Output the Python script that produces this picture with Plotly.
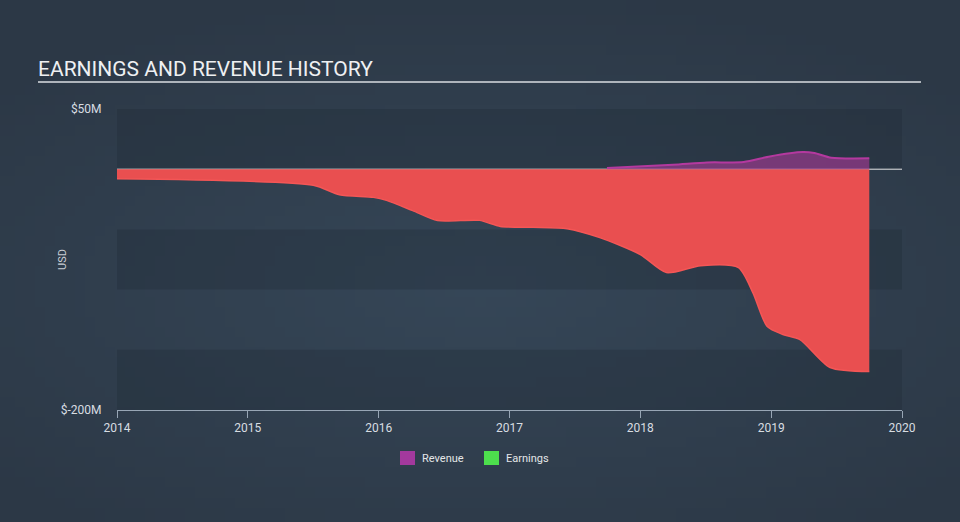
import zlib, struct, base64, math
import plotly.graph_objects as go

# ---- data ----
earn_x = [2014.00, 2015.50, 2015.70, 2015.96, 2016.06, 2016.26, 2016.45, 2016.77, 2016.93,
          2017.18, 2017.44, 2017.69, 2018.00, 2018.20, 2018.46, 2018.75, 2018.86, 2018.97,
          2019.09, 2019.22, 2019.45, 2019.75]
earn_y = [-7.9, -13.4, -21.2, -23.4, -25.9, -34.4, -42.7, -42.5, -47.5,
          -48.3, -49.4, -56.8, -70.9, -85.9, -80.1, -81.7, -102.5, -130.7,
          -137.3, -141.5, -164.7, -168.0]
rev_x = [2017.745, 2018.25, 2018.51, 2018.79, 2018.99, 2019.24, 2019.33, 2019.46, 2019.75]
rev_y = [1.0, 3.7, 5.6, 6.0, 10.6, 14.2, 13.4, 9.5, 9.0]
x_ticks = [2014, 2015, 2016, 2017, 2018, 2019, 2020]
y_ticks = [-200, 50]
y_ticktext = ["$-200M", "$50M"]
legend_names = ["Revenue", "Earnings"]
legend_colors = ["#a3399d", "#4ddf4d"]

W, H = 960, 522
L, R, T, B = 117, 58, 109, 112
PW, PH = W - L - R, H - T - B

def px_x(x):
    return (x - L) / PW

def px_y(y):
    return (H - B - y) / PH

# ---- background gradient PNG ----
def make_png(w, h):
    rows = b""
    for j in range(h):
        rows += b"\x00"
        for i in range(w):
            dx = (i / (w - 1) - 0.5) * 1.2
            dy = (j / (h - 1) - 0.55) * 1.4
            d = min(1.0, math.sqrt(dx * dx + dy * dy) / 0.85)
            c0 = (54, 71, 88)
            c1 = (44, 56, 70)
            rows += bytes(int(c0[k] + (c1[k] - c0[k]) * d) for k in range(3))
    def chunk(t, d):
        return struct.pack(">I", len(d)) + t + d + struct.pack(">I", zlib.crc32(t + d) & 0xffffffff)
    png = b"\x89PNG\r\n\x1a\n" + chunk(b"IHDR", struct.pack(">IIBBBBB", w, h, 8, 2, 0, 0, 0))
    png += chunk(b"IDAT", zlib.compress(rows)) + chunk(b"IEND", b"")
    return "data:image/png;base64," + base64.b64encode(png).decode()

bg = make_png(96, 52)

fig = go.Figure()
fig.add_trace(go.Scatter(x=earn_x, y=earn_y, mode="lines", fill="tozeroy",
                         line=dict(color="#f45656", width=1.5, shape="spline", smoothing=0.7),
                         fillcolor="#e94f50", showlegend=False, hoverinfo="skip"))
fig.add_trace(go.Scatter(x=rev_x, y=rev_y, mode="lines", fill="tozeroy",
                         line=dict(color="#b4399f", width=2, shape="spline", smoothing=0.7),
                         fillcolor="rgba(168,58,150,0.62)", showlegend=False, hoverinfo="skip"))

shapes = []
for y0, y1 in [(0, 50), (-100, -50), (-200, -150)]:
    shapes.append(dict(type="rect", xref="x", yref="y", x0=2014, x1=2020, y0=y0, y1=y1,
                       fillcolor="rgba(30,40,52,0.28)", line=dict(width=0), layer="below"))
shapes.append(dict(type="line", xref="x", yref="y", x0=2014, x1=2020, y0=0, y1=0,
                   line=dict(color="#e6e6e6", width=1), layer="below"))
shapes.append(dict(type="line", xref="paper", yref="paper",
                   x0=px_x(38), x1=px_x(921), y0=px_y(82), y1=px_y(82),
                   line=dict(color="#aeb4bb", width=2)))

annotations = [
    dict(text="EARNINGS AND REVENUE HISTORY", xref="paper", yref="paper",
         x=px_x(36), y=px_y(69), xanchor="left", yanchor="middle",
         showarrow=False, font=dict(size=21, color="#eef0f2", family="Roboto")),
    dict(text="USD", xref="paper", yref="paper", x=px_x(62), y=px_y(260),
         textangle=-90, showarrow=False, xanchor="center", yanchor="middle",
         font=dict(size=11, color="#c9ced4")),
]

# manual legend
leg_swatch_x = [400, 484]
for name, col, sx in zip(legend_names, legend_colors, leg_swatch_x):
    shapes.append(dict(type="rect", xref="paper", yref="paper",
                       x0=px_x(sx), x1=px_x(sx + 15), y0=px_y(465), y1=px_y(451),
                       fillcolor=col, line=dict(width=0)))
    annotations.append(dict(text=name, xref="paper", yref="paper", x=px_x(sx + 20), y=px_y(458),
                            xanchor="left", yanchor="middle", showarrow=False,
                            font=dict(size=11, color="#e4e6e8")))

fig.update_layout(
    width=W, height=H,
    margin=dict(l=L, r=R, t=T, b=B),
    paper_bgcolor="#323f4e", plot_bgcolor="rgba(0,0,0,0)",
    font=dict(family="Roboto", color="#d8dde2"),
    shapes=shapes,
    images=[dict(source=bg, xref="paper", yref="paper", x=-L / PW, y=1 + T / PH,
                 sizex=W / PW, sizey=H / PH, sizing="stretch", layer="below",
                 xanchor="left", yanchor="top")],
    showlegend=False,
    hovermode=False,
    annotations=annotations,
    xaxis=dict(range=[2014, 2020], tickvals=x_ticks, ticktext=[str(v) for v in x_ticks],
               showgrid=False, zeroline=False, showline=True, linecolor="#98a6b5", linewidth=1,
               ticks="outside", ticklen=7, tickcolor="#98a6b5", tickfont=dict(size=12, color="#d8dde2")),
    yaxis=dict(range=[-200, 50], tickvals=y_ticks, ticktext=y_ticktext, showgrid=False,
               zeroline=False, showline=False, ticks="outside", ticklen=12,
               tickcolor="rgba(0,0,0,0)", tickfont=dict(size=12, color="#d8dde2")),
)

fig.write_html("out.html", config={"displayModeBar": False},
               post_script="document.body.style.margin='0';document.body.style.background='#2e3a48';")
